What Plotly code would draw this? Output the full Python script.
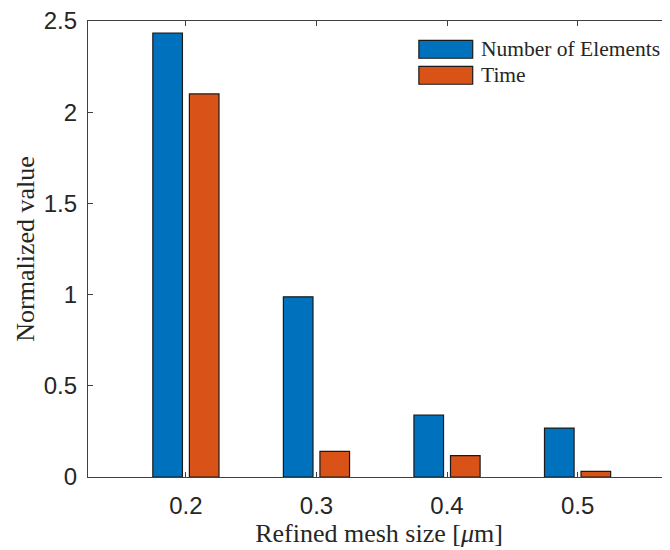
import plotly.graph_objects as go

mesh_sizes = [0.2, 0.3, 0.4, 0.5]
num_elements = [2.433, 0.988, 0.339, 0.268]
time_vals = [2.10, 0.140, 0.117, 0.031]
series_names = ["Number of Elements", "Time"]
x_ticks = [0.2, 0.3, 0.4, 0.5]
x_tick_labels = ["0.2", "0.3", "0.4", "0.5"]
y_ticks = [0, 0.5, 1, 1.5, 2, 2.5]
y_tick_labels = ["0", "0.5", "1", "1.5", "2", "2.5"]

BLUE = "#0072BD"
ORANGE = "#D95319"
AX = "#404040"

fig = go.Figure()
fig.add_trace(go.Bar(x=mesh_sizes, y=num_elements, name=series_names[0],
                     marker=dict(color=BLUE, line=dict(color="#1a1a1a", width=1.2)),
                     showlegend=False))
fig.add_trace(go.Bar(x=mesh_sizes, y=time_vals, name=series_names[1],
                     marker=dict(color=ORANGE, line=dict(color="#1a1a1a", width=1.2)),
                     showlegend=False))

# manual MATLAB-like legend (long patches, no box)
legend_y = [0.938, 0.881]
colors = [BLUE, ORANGE]
for name, col, yy in zip(series_names, colors, legend_y):
    fig.add_shape(type="rect", xref="paper", yref="paper",
                  x0=0.5685, x1=0.661, y0=yy - 0.0197, y1=yy + 0.0197,
                  fillcolor=col, line=dict(color="#1a1a1a", width=1.2))
    fig.add_annotation(text=name, xref="paper", yref="paper",
                       x=0.6716, y=yy, xanchor="left", yanchor="middle",
                       showarrow=False,
                       font=dict(family="Liberation Serif", size=21.5, color="#262626"))

fig.update_layout(
    width=662, height=542,
    margin=dict(l=80, r=0, t=13, b=73, autoexpand=False),
    paper_bgcolor="white", plot_bgcolor="white",
    barmode="group", bargap=0.44, bargroupgap=0.19,
    xaxis=dict(range=[0.125, 0.5708], tickvals=x_ticks, ticktext=x_tick_labels,
               ticks="inside", ticklen=5, tickcolor=AX, showline=True, linecolor=AX,
               linewidth=1.3, mirror="ticks", showgrid=False, zeroline=False,
               tickfont=dict(family="Liberation Sans", size=24, color="#262626"),
               ticklabelstandoff=7, automargin=False, ticklabeloverflow="allow",
               title=dict(text="Refined mesh size [<i>μ</i>m]", standoff=5,
                          font=dict(family="Liberation Serif", size=26, color="#262626"))),
    yaxis=dict(range=[0, 2.5], tickvals=y_ticks, ticktext=y_tick_labels,
               ticks="inside", ticklen=5, tickcolor=AX, showline=True, linecolor=AX,
               linewidth=1.3, mirror=False, showgrid=False, zeroline=False,
               tickfont=dict(family="Liberation Sans", size=24, color="#262626"),
               ticklabelstandoff=5, automargin=False, ticklabeloverflow="allow",
               title=dict(text="Normalized value", standoff=1,
                          font=dict(family="Liberation Serif", size=26, color="#262626"))),
)

fig.write_html("out.html")
